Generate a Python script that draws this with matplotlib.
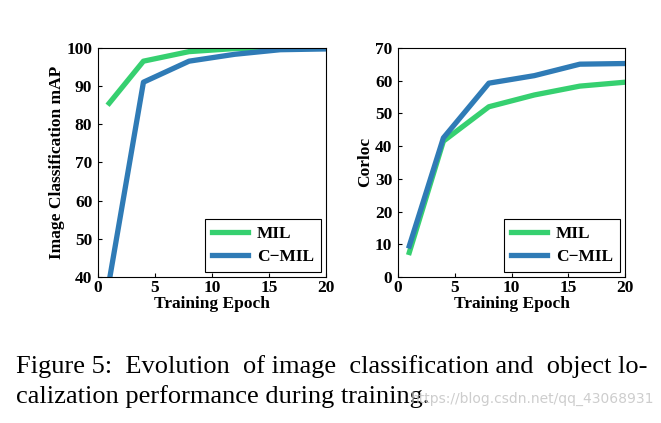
import matplotlib.pyplot as plt

epochs = [1, 4, 8, 12, 16, 20]

map_mil = [85.5, 96.5, 99.0, 99.8, 100.0, 100.0]
map_cmil = [39.0, 91.0, 96.5, 98.3, 99.5, 99.7]

corloc_mil = [7.5, 41.5, 52.0, 55.6, 58.3, 59.5]
corloc_cmil = [9.5, 42.5, 59.2, 61.5, 65.0, 65.2]

GREEN = "#36d070"
BLUE = "#2f7bb6"
SERIF = ["Liberation Serif", "DejaVu Serif"]

plt.rcParams["font.family"] = SERIF
plt.rcParams["font.weight"] = "bold"

fig = plt.figure(figsize=(6.61, 4.23), dpi=100)
ax1 = fig.add_axes([0.148, 0.345, 0.345, 0.542])
ax2 = fig.add_axes([0.602, 0.345, 0.344, 0.542])

def draw(ax, mil, cmil, ylim, yticks, ylabel):
    ax.plot(epochs, mil, color=GREEN, lw=3.8, label="MIL")
    ax.plot(epochs, cmil, color=BLUE, lw=3.8, label="C\u2212MIL")
    ax.set_xlim(0, 20)
    ax.set_ylim(*ylim)
    ax.set_xticks([0, 5, 10, 15, 20])
    ax.set_yticks(yticks)
    ax.tick_params(direction="in", length=3, labelsize=12.5)
    ax.tick_params(axis="x", pad=2)
    ax.tick_params(axis="y", pad=4)
    for lab in ax.get_xticklabels() + ax.get_yticklabels():
        lab.set_fontweight("bold")
    ax.set_xlabel("Training Epoch", fontsize=12.5, fontweight="bold", labelpad=0)
    ax.set_ylabel(ylabel, fontsize=12.5, fontweight="bold", labelpad=1)
    for s in ax.spines.values():
        s.set_linewidth(0.8)
    leg = ax.legend(loc="lower right", fancybox=False, framealpha=1,
                    edgecolor="black", handlelength=2.1, handletextpad=0.5,
                    borderpad=0.4, labelspacing=0.4,
                    prop={"weight": "bold", "size": 12.5},
                    borderaxespad=0.3)
    leg.get_frame().set_linewidth(0.8)

draw(ax1, map_mil, map_cmil, (40, 100), [40, 50, 60, 70, 80, 90, 100],
     "Image Classification mAP")
draw(ax2, corloc_mil, corloc_cmil, (0, 70), [0, 10, 20, 30, 40, 50, 60, 70],
     "Corloc")

fig.text(0.024, 0.118, "Figure 5:  Evolution  of image  classification and  object lo-",
         fontsize=19, fontweight="normal", family=SERIF, va="baseline")
fig.text(0.024, 0.047, "calization performance during training.",
         fontsize=19, fontweight="normal", family=SERIF, va="baseline")
fig.text(0.99, 0.047, "https://blog.csdn.net/qq_43068931", fontsize=10,
         fontweight="normal", family=["DejaVu Sans"], color="#c8c8c8",
         ha="right", va="baseline", alpha=0.9)

fig.savefig("out.png", dpi=100)
